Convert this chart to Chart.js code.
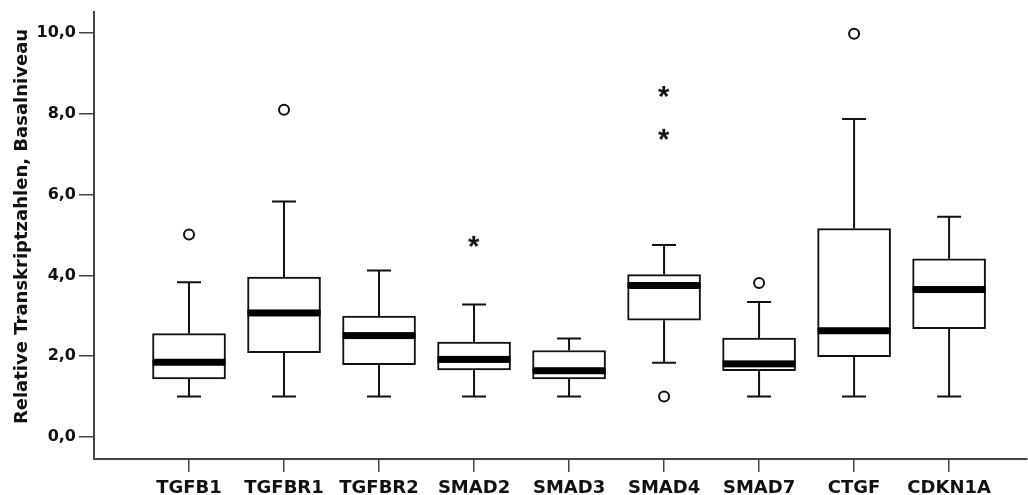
<!DOCTYPE html>
<html>
<head>
<meta charset="utf-8">
<script src="https://cdn.jsdelivr.net/npm/chart.js@4/dist/chart.umd.min.js"></script>
<style>
  html, body { margin: 0; padding: 0; background: #fff; }
  #wrap { width: 1028px; height: 495px; }
</style>
</head>
<body>
<div id="wrap"><canvas id="c" width="1028" height="495"></canvas></div>
<script>
// Gene categories along the x axis
const categories = ['TGFB1', 'TGFBR1', 'TGFBR2', 'SMAD2', 'SMAD3', 'SMAD4', 'SMAD7', 'CTGF', 'CDKN1A'];

// Five-number summaries per gene (relative transcript counts, baseline)
const whiskerLow  = [1.00, 1.00, 1.00, 1.00, 1.00, 1.84, 1.00, 1.00, 1.00];
const quartile1   = [1.44, 2.09, 1.79, 1.66, 1.44, 2.89, 1.64, 1.99, 2.68];
const medians     = [1.85, 3.07, 2.51, 1.92, 1.64, 3.75, 1.81, 2.63, 3.65];
const quartile3   = [2.56, 3.96, 2.99, 2.35, 2.14, 4.02, 2.45, 5.16, 4.41];
const whiskerHigh = [3.83, 5.83, 4.12, 3.28, 2.44, 4.75, 3.34, 7.87, 5.45];

// Outliers (circles) and extreme values (asterisks): category index + value
const outlierCat = [0, 1, 5, 6, 7];
const outlierVal = [5.01, 8.10, 1.00, 3.81, 9.98];
const extremeCat = [3, 5, 5];
const extremeVal = [4.83, 8.54, 7.48];

// Y axis tick values and axis title
const yTicks = [0, 2, 4, 6, 8, 10];
const yTitle = 'Relative Transkriptzahlen, Basalniveau';

const FONT = '"DejaVu Sans", "Liberation Sans", sans-serif';
const INK = '#111';
const AXIS = '#444';

// Asterisk marker rendered once into a small canvas, used as a point style
const asteriskMarker = (() => {
  const c = document.createElement('canvas');
  c.width = 18; c.height = 18;
  const g = c.getContext('2d');
  g.fillStyle = INK;
  g.font = 'bold 29px "Liberation Sans", sans-serif';
  g.textAlign = 'left';
  g.textBaseline = 'alphabetic';
  const m = g.measureText('*');
  const x = 9 - (m.actualBoundingBoxRight - m.actualBoundingBoxLeft) / 2;
  const y = 9 + (m.actualBoundingBoxAscent - m.actualBoundingBoxDescent) / 2;
  g.fillText('*', x, y);
  return c;
})();

// Whiskers, caps and median bars drawn on top of the boxes
const boxplotParts = {
  id: 'boxplotParts',
  afterDatasetsDraw(chart) {
    const { ctx } = chart;
    const ys = chart.scales.y;
    const boxes = chart.getDatasetMeta(0).data;
    const capHalf = 12;
    ctx.save();
    ctx.strokeStyle = INK;
    ctx.fillStyle = '#000';
    ctx.lineWidth = 2;
    boxes.forEach((bar, i) => {
      const x = bar.x;
      const half = bar.width / 2;
      const yLo = ys.getPixelForValue(whiskerLow[i]);
      const yQ1 = ys.getPixelForValue(quartile1[i]);
      const yQ3 = ys.getPixelForValue(quartile3[i]);
      const yHi = ys.getPixelForValue(whiskerHigh[i]);
      const yMed = ys.getPixelForValue(medians[i]);
      ctx.beginPath();
      ctx.moveTo(x, yQ3); ctx.lineTo(x, yHi);
      ctx.moveTo(x - capHalf, yHi); ctx.lineTo(x + capHalf, yHi);
      ctx.moveTo(x, yQ1); ctx.lineTo(x, yLo);
      ctx.moveTo(x - capHalf, yLo); ctx.lineTo(x + capHalf, yLo);
      ctx.stroke();
      ctx.fillRect(x - half, yMed - 3.5, bar.width, 7);
    });
    ctx.restore();
  }
};

// Rotated y axis title
const axisTitle = {
  id: 'axisTitle',
  afterDraw(chart) {
    const { ctx, chartArea } = chart;
    ctx.save();
    ctx.translate(22, chartArea.top + (chartArea.bottom - chartArea.top) / 2 - 9);
    ctx.rotate(-Math.PI / 2);
    ctx.font = 'bold 18px ' + FONT;
    ctx.fillStyle = INK;
    ctx.textAlign = 'center';
    ctx.textBaseline = 'middle';
    ctx.fillText(yTitle, 0, 0);
    ctx.restore();
  }
};

new Chart(document.getElementById('c'), {
  type: 'bar',
  data: {
    datasets: [
      {
        type: 'bar',
        data: categories.map((_, i) => ({ x: i, y: [quartile1[i], quartile3[i]] })),
        backgroundColor: '#fff',
        borderColor: INK,
        borderWidth: 2,
        borderSkipped: false,
        barThickness: 73
      },
      {
        type: 'scatter',
        data: outlierCat.map((c, i) => ({ x: c, y: outlierVal[i] })),
        pointStyle: 'circle',
        radius: 5,
        borderWidth: 2,
        borderColor: INK,
        backgroundColor: '#fff'
      },
      {
        type: 'scatter',
        data: extremeCat.map((c, i) => ({ x: c, y: extremeVal[i] })),
        pointStyle: asteriskMarker,
        radius: 6
      }
    ]
  },
  options: {
    responsive: false,
    animation: false,
    devicePixelRatio: 1,
    layout: { autoPadding: false, padding: { top: 12, right: 1, left: 0, bottom: 0 } },
    plugins: { legend: { display: false }, tooltip: { enabled: false } },
    scales: {
      x: {
        type: 'linear',
        offset: false,
        min: -1,
        max: 8.82,
        afterBuildTicks(scale) { scale.ticks = categories.map((_, i) => ({ value: i })); },
        afterFit(scale) { scale.height = 36; scale.paddingLeft = 0; scale.paddingRight = 0; },
        border: { display: true, color: AXIS, width: 2 },
        grid: { drawOnChartArea: false, drawTicks: true, tickLength: 13, color: AXIS, lineWidth: 1.5, offset: false },
        ticks: {
          autoSkip: false,
          maxRotation: 0,
          padding: 6,
          color: INK,
          font: { family: FONT, size: 18, weight: 'bold' },
          callback: (v) => categories[v] ?? ''
        }
      },
      y: {
        type: 'linear',
        min: -0.545,
        max: 10.52,
        afterBuildTicks(scale) { scale.ticks = yTicks.map(v => ({ value: v })); },
        afterFit(scale) { scale.width = 94; scale.paddingTop = 0; scale.paddingBottom = 0; },
        border: { display: true, color: AXIS, width: 2 },
        grid: { drawOnChartArea: false, drawTicks: true, tickLength: 15, color: AXIS, lineWidth: 1.5 },
        ticks: {
          padding: 3,
          color: INK,
          font: { family: FONT, size: 16, weight: 'bold' },
          callback: (v) => v.toFixed(1).replace('.', ',')
        }
      }
    }
  },
  plugins: [boxplotParts, axisTitle]
});
</script>
</body>
</html>
